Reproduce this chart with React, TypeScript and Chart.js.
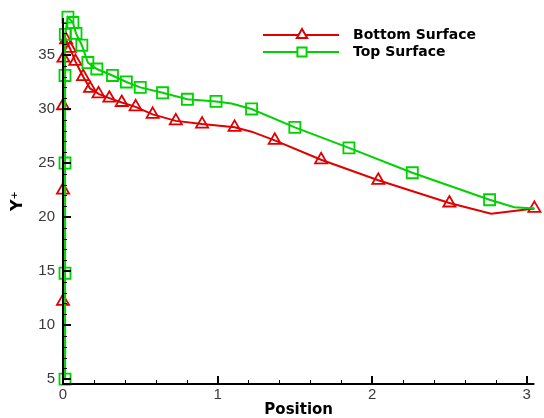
import React, { useEffect, useRef } from "react";
import { Chart, registerables } from "chart.js";

Chart.register(...registerables);

// Bottom surface: position, Y+ and whether a symbol is drawn at the point
const bottomX = [0.0, 0.0, 0.0, 0.0, 0.003, 0.02, 0.045, 0.08, 0.13, 0.175, 0.23, 0.3, 0.38, 0.47, 0.58, 0.73, 0.9, 1.11, 1.22, 1.37, 1.67, 2.04, 2.5, 2.77, 3.05];
const bottomY = [5.0, 12.2, 22.5, 30.3, 34.7, 36.4, 35.6, 34.4, 33.0, 31.9, 31.4, 31.0, 30.6, 30.2, 29.5, 28.9, 28.6, 28.3, 27.9, 27.1, 25.3, 23.4, 21.3, 20.3, 20.8];
const bottomMarks = [0, 1, 1, 1, 1, 1, 1, 1, 1, 1, 1, 1, 1, 1, 1, 1, 1, 1, 0, 1, 1, 1, 1, 0, 1];

// Top surface
const topX = [0.013, 0.013, 0.013, 0.013, 0.015, 0.032, 0.064, 0.084, 0.122, 0.161, 0.219, 0.32, 0.41, 0.5, 0.644, 0.805, 0.99, 1.09, 1.22, 1.5, 1.85, 2.26, 2.76, 2.92, 3.05];
const topY = [5.0, 14.8, 25.0, 33.1, 36.9, 38.5, 38.0, 37.0, 35.9, 34.3, 33.7, 33.1, 32.5, 32.0, 31.5, 30.9, 30.7, 30.5, 30.0, 28.3, 26.4, 24.1, 21.6, 20.9, 20.8];
const topMarks = [1, 1, 1, 1, 1, 1, 1, 1, 1, 1, 1, 1, 1, 1, 1, 1, 1, 0, 1, 1, 1, 1, 1, 0, 0];

const seriesNames = ["Bottom Surface", "Top Surface"];

// Axis ranges and labelled ticks
const xRange = [0, 3.05];
const yRange = [4.55, 38.42];
const xTickValues = [0, 1, 2, 3];
const yTickValues = [5, 10, 15, 20, 25, 30, 35];
const xMinorStep = 0.2;
const yMinorStep = 1;

const RED = "#e00000";
const GREEN = "#00d200";

const toPoints = (xs: number[], ys: number[]) => xs.map((x, i) => ({ x, y: ys[i] }));

function pathTriangle(ctx: CanvasRenderingContext2D, x: number, y: number, r: number) {
  const s = Math.sin((Math.PI / 3) * 2) * r;
  ctx.beginPath();
  ctx.moveTo(x, y - r);
  ctx.lineTo(x + s, y + r / 2);
  ctx.lineTo(x - s, y + r / 2);
  ctx.closePath();
}

function pathSquare(ctx: CanvasRenderingContext2D, x: number, y: number, r: number) {
  const h = Math.SQRT1_2 * r;
  ctx.beginPath();
  ctx.rect(x - h, y - h, 2 * h, 2 * h);
}

// Axis lines plus inward-pointing major and minor tick marks, drawn over the data
const axesFrame = {
  id: "axesFrame",
  afterDatasetsDraw(chart: any) {
    const { ctx, chartArea, scales } = chart;
    const { left, right, top, bottom } = chartArea;
    ctx.save();
    ctx.strokeStyle = "#000";
    ctx.lineWidth = 2;
    ctx.beginPath();
    ctx.moveTo(left, top);
    ctx.lineTo(left, bottom + 1);
    ctx.moveTo(left - 1, bottom);
    ctx.lineTo(right, bottom);
    ctx.stroke();

    const nx = Math.round((xTickValues[xTickValues.length - 1] - xTickValues[0]) / xMinorStep);
    for (let i = 0; i <= nx; i++) {
      const v = xTickValues[0] + i * xMinorStep;
      const major = xTickValues.some((t) => Math.abs(t - v) < 1e-6);
      const px = Math.round(scales.x.getPixelForValue(v)) + (major ? 0 : 0.5);
      ctx.lineWidth = major ? 2 : 1;
      ctx.beginPath();
      ctx.moveTo(px, bottom);
      ctx.lineTo(px, bottom - (major ? 8 : 4));
      ctx.stroke();
    }
    const first = yTickValues[0];
    const ny = Math.floor((yRange[1] - first) / yMinorStep);
    for (let i = 0; i <= ny; i++) {
      const v = first + i * yMinorStep;
      const major = yTickValues.includes(v);
      const py = Math.round(scales.y.getPixelForValue(v)) + (major ? 0 : 0.5);
      ctx.lineWidth = major ? 2 : 1;
      ctx.beginPath();
      ctx.moveTo(left, py);
      ctx.lineTo(left + (major ? 8 : 4), py);
      ctx.stroke();
    }
    ctx.restore();
  },
};

// Legend: a line sample with its symbol in the middle, then the name
const surfaceLegend = {
  id: "surfaceLegend",
  afterDraw(chart: any) {
    const { ctx } = chart;
    const rows = [
      { name: seriesNames[0], color: RED, shape: "triangle", y: 35 },
      { name: seriesNames[1], color: GREEN, shape: "square", y: 52 },
    ];
    ctx.save();
    for (const row of rows) {
      ctx.strokeStyle = row.color;
      ctx.lineWidth = 2;
      ctx.beginPath();
      ctx.moveTo(263, row.y);
      ctx.lineTo(339, row.y);
      ctx.stroke();
      if (row.shape === "triangle") pathTriangle(ctx, 302, row.y, 6);
      else pathSquare(ctx, 302, row.y, 6.5);
      ctx.fillStyle = "#fff";
      ctx.fill();
      ctx.stroke();
      ctx.fillStyle = "#000";
      ctx.font = "bold 14px 'DejaVu Sans'";
      ctx.textAlign = "left";
      ctx.textBaseline = "middle";
      ctx.fillText(row.name, 353, row.y);
    }
    ctx.restore();
  },
};

export default function App() {
  const canvasRef = useRef<HTMLCanvasElement | null>(null);

  useEffect(() => {
    if (!canvasRef.current) return;
    const tickFont = { family: "'Liberation Sans', Arial, sans-serif", size: 15 };
    const chart = new Chart(canvasRef.current, {
      type: "scatter",
      data: {
        datasets: [
          {
            label: seriesNames[0],
            data: toPoints(bottomX, bottomY),
            showLine: true,
            borderColor: RED,
            borderWidth: 2,
            tension: 0,
            pointStyle: "triangle",
            pointRadius: (c: any) => (bottomMarks[c.dataIndex] ? 7 : 0),
            pointBorderColor: RED,
            pointBorderWidth: 1.8,
            pointBackgroundColor: "rgba(0,0,0,0)",
            clip: false,
            order: 1,
          },
          {
            label: seriesNames[1],
            data: toPoints(topX, topY),
            showLine: true,
            borderColor: GREEN,
            borderWidth: 2,
            tension: 0,
            pointStyle: "rect",
            pointRadius: (c: any) => (topMarks[c.dataIndex] ? 7.8 : 0),
            pointBorderColor: GREEN,
            pointBorderWidth: 1.8,
            pointBackgroundColor: "rgba(0,0,0,0)",
            clip: false,
            order: 0,
          },
        ],
      },
      options: {
        animation: false,
        responsive: true,
        maintainAspectRatio: false,
        layout: { padding: { left: 0, top: 18, right: 7, bottom: 0 } },
        plugins: { legend: { display: false }, tooltip: { enabled: false } },
        events: [],
        scales: {
          x: {
            type: "linear",
            min: xRange[0],
            max: xRange[1],
            afterBuildTicks: (s: any) => {
              s.ticks = xTickValues.map((value) => ({ value }));
            },
            afterFit: (s: any) => {
              s.height = 34;
            },
            grid: { display: false, drawTicks: false },
            border: { display: false },
            ticks: { font: tickFont, color: "#3a3a3a", padding: 2, maxRotation: 0 },
            title: {
              display: true,
              text: "Position",
              color: "#000",
              font: { family: "'DejaVu Sans'", size: 15, weight: "bold" },
              padding: { top: 0, bottom: -1 },
            },
          },
          y: {
            type: "linear",
            min: yRange[0],
            max: yRange[1],
            afterBuildTicks: (s: any) => {
              s.ticks = yTickValues.map((value) => ({ value }));
            },
            afterFit: (s: any) => {
              s.width = 63;
            },
            grid: { display: false, drawTicks: false },
            border: { display: false },
            ticks: { font: tickFont, color: "#3a3a3a", padding: 8 },
            title: {
              display: true,
              text: "Y\u207A",
              color: "#000",
              font: { family: "'DejaVu Sans'", size: 16, weight: "bold" },
              padding: { top: 8, bottom: 0 },
            },
          },
        },
      },
      plugins: [axesFrame, surfaceLegend],
    } as any);
    return () => chart.destroy();
  }, []);

  return (
    <div style={{ position: "fixed", left: 0, top: 0, width: 544, height: 418, background: "#fff" }}>
      <canvas ref={canvasRef} />
    </div>
  );
}
